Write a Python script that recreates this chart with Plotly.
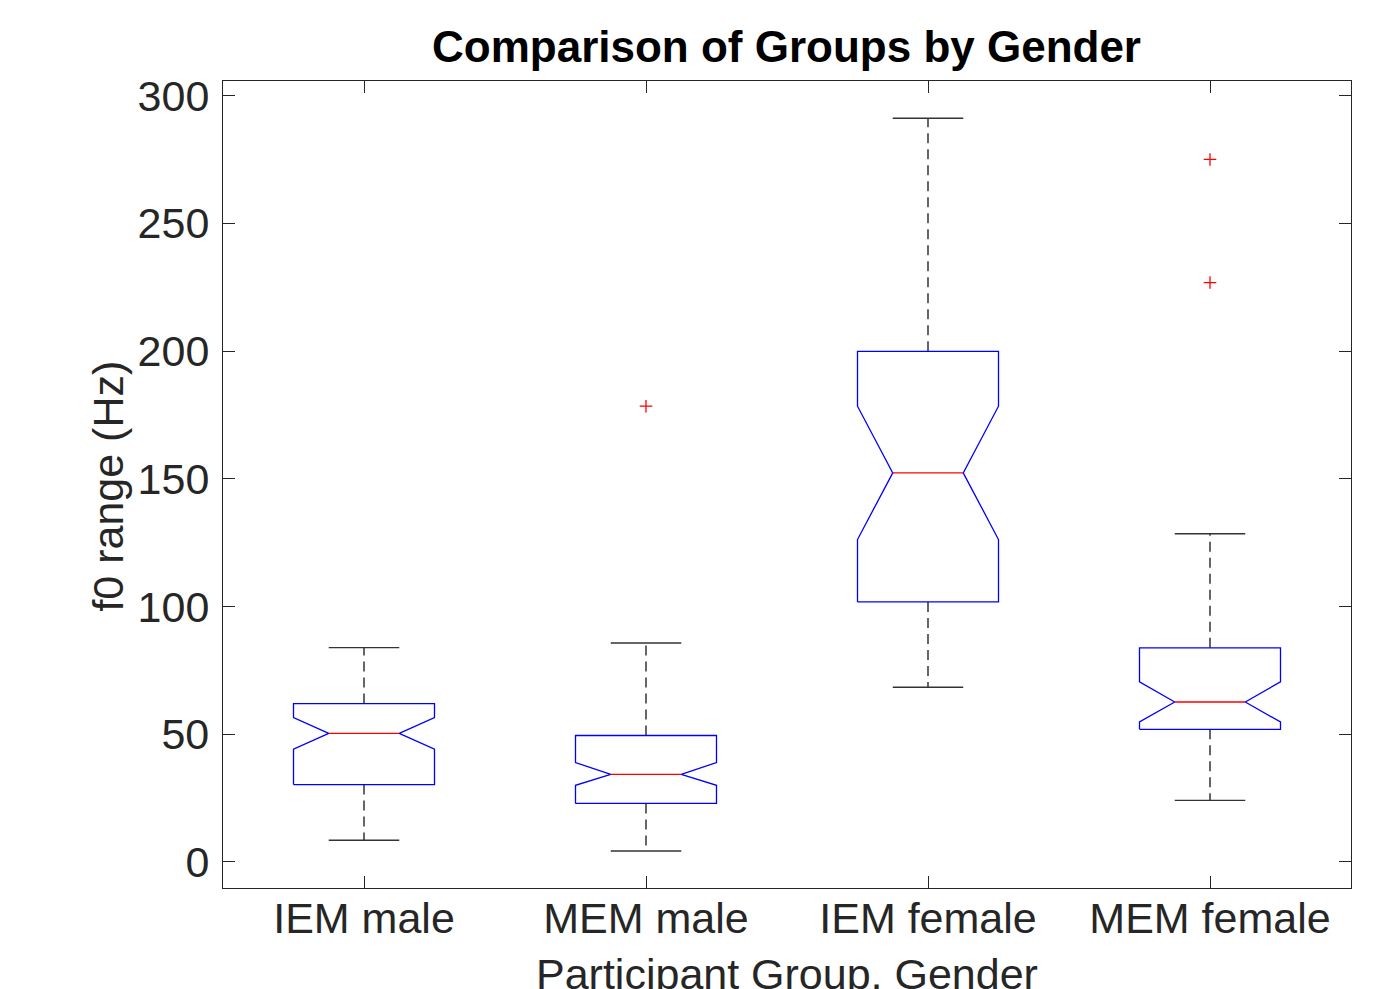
import plotly.graph_objects as go

# ---- data ----
categories = ["IEM male", "MEM male", "IEM female", "MEM female"]
positions = [1, 2, 3, 4]
lower_whisker = [8.5, 4.3, 68.4, 24.1]
q1 = [30.3, 22.9, 101.8, 51.9]
notch_lo = [44.1, 30.0, 126.2, 54.8]
median = [50.3, 34.3, 152.3, 62.6]
notch_hi = [56.5, 38.9, 178.4, 70.5]
q3 = [62.0, 49.5, 199.9, 83.8]
upper_whisker = [83.9, 85.7, 291.1, 128.5]
outlier_group = [2, 4, 4]
outlier_value = [178.4, 275.0, 226.8]
y_ticks = [0, 50, 100, 150, 200, 250, 300]
x_title = "Participant Group, Gender"
y_title = "f0 range (Hz)"
chart_title = "Comparison of Groups by Gender"

# ---- style ----
BOX_HALF = 0.25
NOTCH_HALF = 0.125
CAP_HALF = 0.125
FONT = "Liberation Sans, Arial, Helvetica, sans-serif"
AX = "#262626"

fig = go.Figure()

for i, p in enumerate(positions):
    w, nw = BOX_HALF, NOTCH_HALF
    xs = [p - w, p - w, p - nw, p - w, p - w, p + w, p + w, p + nw, p + w, p + w, p - w]
    ys = [q1[i], notch_lo[i], median[i], notch_hi[i], q3[i], q3[i], notch_hi[i], median[i],
          notch_lo[i], q1[i], q1[i]]
    # whiskers (dashed)
    fig.add_trace(go.Scatter(x=[p, p, None, p, p],
                             y=[q3[i], upper_whisker[i], None, q1[i], lower_whisker[i]],
                             mode="lines", line=dict(color="black", width=1.2, dash="10px,6px"),
                             hoverinfo="skip", showlegend=False))
    # caps
    fig.add_trace(go.Scatter(x=[p - CAP_HALF, p + CAP_HALF, None, p - CAP_HALF, p + CAP_HALF],
                             y=[upper_whisker[i], upper_whisker[i], None, lower_whisker[i], lower_whisker[i]],
                             mode="lines", line=dict(color="#333333", width=1.4),
                             hoverinfo="skip", showlegend=False))
    # notched box
    fig.add_trace(go.Scatter(x=xs, y=ys, mode="lines",
                             line=dict(color="blue", width=1.3),
                             hoverinfo="skip", showlegend=False))
    # median
    fig.add_trace(go.Scatter(x=[p - nw, p + nw], y=[median[i], median[i]], mode="lines",
                             line=dict(color="red", width=1.3),
                             hoverinfo="skip", showlegend=False))

fig.add_trace(go.Scatter(x=outlier_group, y=outlier_value, mode="markers",
                         marker=dict(symbol="cross-thin", size=9, line=dict(color="red", width=1.3)),
                         hoverinfo="skip", showlegend=False))

fig.update_layout(
    width=1400, height=989,
    margin=dict(l=223, r=49, t=81, b=101),
    paper_bgcolor="white", plot_bgcolor="white",
    font=dict(family=FONT, color=AX, size=43),
    title=dict(text="<b>" + chart_title + "</b>", x=0.5618, xanchor="center",
               y=0.953, yanchor="middle",
               font=dict(family=FONT, size=44, color="black")),
    annotations=[
        dict(text=x_title, xref="paper", yref="paper", x=0.5, y=-0.1066,
             xanchor="center", yanchor="middle", showarrow=False,
             font=dict(family=FONT, size=43, color=AX)),
        dict(text=y_title, xref="paper", yref="paper", x=-0.1015, y=0.498,
             xanchor="center", yanchor="middle", showarrow=False, textangle=-90,
             font=dict(family=FONT, size=43, color=AX)),
    ],
)
fig.update_xaxes(range=[0.5, 4.5], tickmode="array", tickvals=positions, ticktext=categories,
                 ticks="inside", ticklen=12, tickcolor=AX, tickwidth=1,
                 showline=True, linecolor=AX, linewidth=1.2, mirror="ticks",
                 showgrid=False, zeroline=False, automargin=False,
                 tickfont=dict(size=43, color=AX), ticklabelstandoff=-8)
fig.update_yaxes(range=[-10.2, 305.7], tickmode="array", tickvals=y_ticks,
                 ticks="inside", ticklen=12, tickcolor=AX, tickwidth=1,
                 showline=True, linecolor=AX, linewidth=1.2, mirror="ticks",
                 showgrid=False, zeroline=False, automargin=False,
                 tickfont=dict(size=43, color=AX), ticklabelstandoff=4)

fig.write_html("out.html")
